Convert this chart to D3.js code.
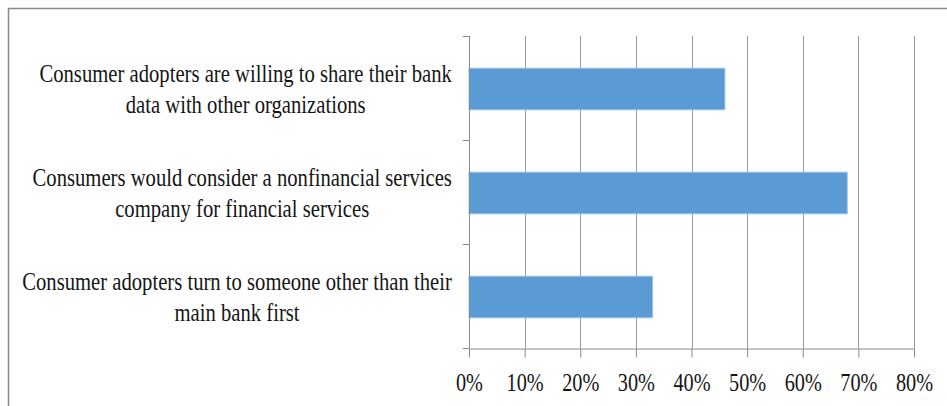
<!DOCTYPE html>
<html>
<head>
<meta charset="utf-8">
<script src="https://cdn.jsdelivr.net/npm/d3@7"></script>
<style>
  html, body { margin: 0; padding: 0; background: #fff; }
  svg { display: block; }
</style>
</head>
<body>
<svg id="chart" width="947" height="406"></svg>
<script>
const categories = [
  ["Consumer adopters are willing to share their bank", "data with other organizations"],
  ["Consumers would consider a nonfinancial services", "company for financial services"],
  ["Consumer adopters turn to someone other than their", "main bank first"]
];
const values = [0.46, 0.68, 0.33];
const tickValues = [0, 0.1, 0.2, 0.3, 0.4, 0.5, 0.6, 0.7, 0.8];
const tickLabels = ["0%", "10%", "20%", "30%", "40%", "50%", "60%", "70%", "80%"];

const svg = d3.select("#chart");
const FS = 26, SX = 0.795, SXT = 0.78;
const FONT = "'Liberation Serif', 'Times New Roman', serif";
const plot = { left: 469, right: 914, top: 36, bottom: 348 };

// outer frame
svg.append("rect").attr("x", 8.5).attr("y", 8.5).attr("width", 1000).attr("height", 500)
  .attr("fill", "none").attr("stroke", "#8a8a8a").attr("stroke-width", 1.5);

const x = d3.scaleLinear().domain([0, 0.8]).range([plot.left, plot.right]);
const y = d3.scaleBand().domain(d3.range(categories.length))
  .range([plot.top + 1, plot.bottom + 1]).paddingInner(0.6).paddingOuter(0.3);

// gridlines
svg.append("g").selectAll("line").data(tickValues.slice(1)).join("line")
  .attr("x1", d => Math.round(x(d)) + 0.5).attr("x2", d => Math.round(x(d)) + 0.5)
  .attr("y1", plot.top).attr("y2", plot.bottom)
  .attr("stroke", "#9a9a9a").attr("stroke-width", 1);

// bars
svg.append("g").selectAll("rect").data(values).join("rect")
  .attr("x", x(0)).attr("y", (d, i) => y(i))
  .attr("width", d => x(d) - x(0)).attr("height", y.bandwidth())
  .attr("fill", "#5b9bd5").attr("stroke", "#9cc3e8").attr("stroke-width", 1);

// y axis (category boundaries)
const n = categories.length;
const yTicks = d3.range(n + 1).map(i => plot.top + i * (plot.bottom - plot.top) / n);
const yAx = svg.append("g");
yAx.append("line").attr("x1", plot.left + 0.5).attr("x2", plot.left + 0.5)
  .attr("y1", plot.top).attr("y2", plot.bottom).attr("stroke", "#8a8a8a");
yAx.selectAll("line.t").data(yTicks).join("line").attr("class", "t")
  .attr("x1", plot.left - 6).attr("x2", plot.left)
  .attr("y1", d => Math.round(d) + 0.5).attr("y2", d => Math.round(d) + 0.5)
  .attr("stroke", "#8a8a8a");

// x axis
const xAxis = d3.axisBottom(x).tickValues(tickValues).tickFormat((d, i) => tickLabels[i])
  .tickSize(9).tickSizeOuter(0).tickPadding(0);
const gx = svg.append("g").attr("transform", `translate(0,${plot.bottom + 0.5})`).call(xAxis);
gx.select(".domain").attr("stroke", "#8a8a8a");
gx.selectAll(".tick line").attr("stroke", "#8a8a8a");
gx.selectAll(".tick text").remove();
gx.selectAll(".tick").append("text")
  .attr("transform", `translate(0,${390 - plot.bottom}) scale(${SXT},1)`)
  .attr("text-anchor", "middle")
  .style("font-family", FONT).style("font-size", FS + "px").style("fill", "#151515")
  .text((d, i) => tickLabels[i]);

// category labels
const labelRight = 452;
categories.forEach((lines, i) => {
  const cy = y(i) + y.bandwidth() / 2;
  const g = svg.append("g");
  const texts = lines.map(ln => g.append("text")
    .style("font-family", FONT).style("font-size", FS + "px").style("fill", "#151515")
    .attr("text-anchor", "middle").text(ln));
  const maxW = d3.max(texts, t => t.node().getComputedTextLength()) * SX;
  const cx = labelRight - maxW / 2;
  texts.forEach((t, k) => {
    const by = cy - 7 + k * 30.5;
    t.attr("transform", `translate(${cx},${by}) scale(${SX},1)`);
  });
});
</script>
</body>
</html>
